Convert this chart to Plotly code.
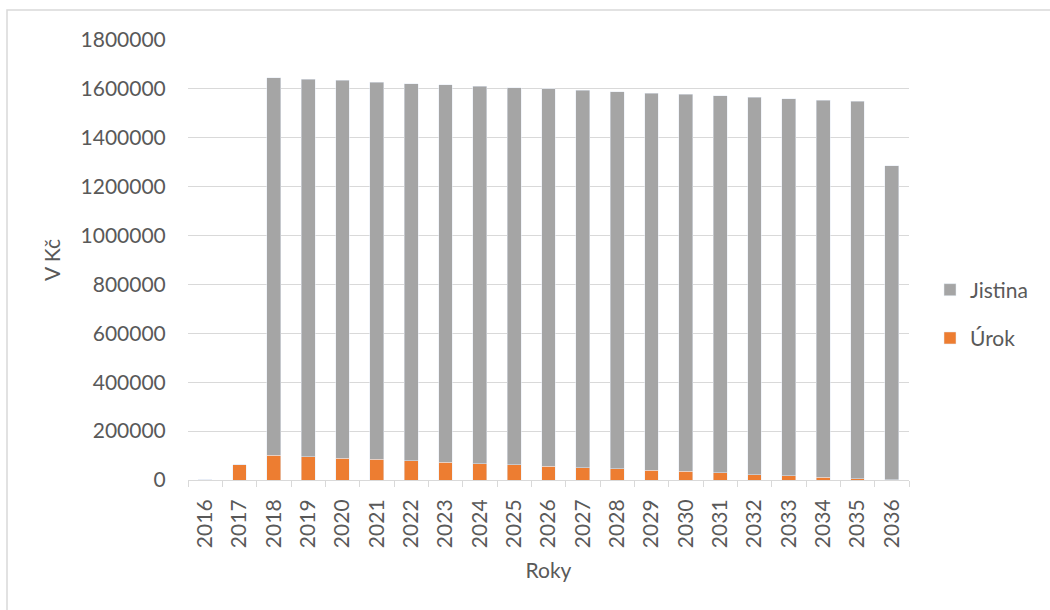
import plotly.graph_objects as go

years = [str(y) for y in range(2016, 2037)]
jistina = [0, 0, 1543500, 1545000, 1545000, 1542500, 1543500, 1544500, 1545500, 1543500,
           1544000, 1543500, 1543500, 1542000, 1541500, 1542000, 1544500, 1543500, 1542500,
           1543500, 1284000]
urok = [1500, 62000, 102000, 95000, 89500, 85000, 78500, 71700, 66000, 62000,
        56000, 51000, 45500, 40000, 35700, 29000, 21000, 16500, 12000, 5500, 1000]

y_ticks = [0, 200000, 400000, 600000, 800000, 1000000, 1200000, 1400000, 1600000, 1800000]

FONT = "Lato"
TXT = "#595959"
GRID = "#D9D9D9"
FS = 21

fig = go.Figure()
fig.add_trace(go.Bar(x=years, y=urok, name="Úrok", marker_color="#ED7D31",
                     legendgroup="u", legendrank=2))
fig.add_trace(go.Bar(x=years, y=jistina, name="Jistina", marker_color="#A5A5A5",
                     legendgroup="j", legendrank=1))

L, R, T, B = 188, 909, 40, 480
W, H = 1050, 610

def px(x):
    return (x - L) / (R - L)

def py(y):
    return (B - y) / (B - T)

fig.update_layout(
    width=W, height=H,
    margin=dict(l=L, r=W - R, t=T, b=H - B, pad=0),
    barmode="stack", bargap=0.6,
    paper_bgcolor="white", plot_bgcolor="white",
    font=dict(family=FONT, size=FS, color=TXT),
    showlegend=True,
    legend=dict(x=px(930), xanchor="left", y=py(314), yanchor="middle",
                traceorder="grouped", tracegroupgap=18,
                font=dict(family=FONT, size=FS, color=TXT),
                itemwidth=30, bgcolor="rgba(0,0,0,0)"),
    xaxis=dict(
        type="category", tickangle=-90,
        showline=True, linecolor=GRID, linewidth=1,
        ticks="outside", tickson="boundaries", ticklen=6, tickcolor=GRID,
        ticklabelstandoff=10,
        showgrid=False,
        title=dict(text="Roky", standoff=16, font=dict(size=FS, color=TXT)),
        tickfont=dict(size=FS, color=TXT),
    ),
    yaxis=dict(
        range=[0, 1800000], tickvals=y_ticks, ticktext=[str(v) for v in y_ticks],
        showgrid=True, gridcolor=GRID, gridwidth=1,
        zeroline=False, showline=False,
        ticks="outside", ticklen=17, tickcolor="rgba(0,0,0,0)",
        title=dict(text="V Kč", standoff=14, font=dict(size=FS, color=TXT)),
        tickfont=dict(size=FS, color=TXT),
    ),
    shapes=[dict(type="rect", xref="paper", yref="paper",
                 x0=px(7), x1=px(1060), y0=py(620), y1=py(10),
                 line=dict(color=GRID, width=1.5), fillcolor="rgba(0,0,0,0)",
                 layer="below")],
)

fig.write_html("out.html")
